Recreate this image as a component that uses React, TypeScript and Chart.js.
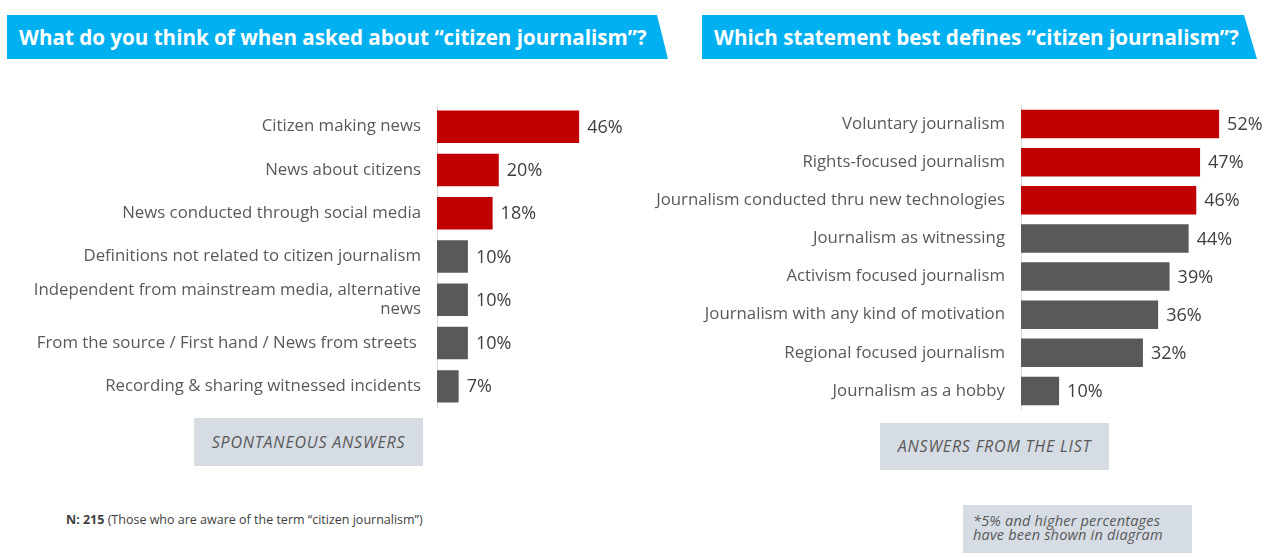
import React, { useEffect, useRef } from "react";
import { Chart, registerables } from "chart.js";

Chart.register(...registerables);

const leftCategories: (string | string[])[] = [
  "Citizen making news",
  "News about citizens",
  "News conducted through social media",
  "Definitions not related to citizen journalism",
  ["Independent from mainstream media, alternative", "news"],
  "From the source / First hand / News from streets ",
  "Recording & sharing witnessed incidents",
];
const leftValues = [46, 20, 18, 10, 10, 10, 7];
const leftHighlighted = [true, true, true, false, false, false, false];

const rightCategories: string[] = [
  "Voluntary journalism",
  "Rights-focused journalism",
  "Journalism conducted thru new technologies",
  "Journalism as witnessing",
  "Activism focused journalism",
  "Journalism with any kind of motivation",
  "Regional focused journalism",
  "Journalism as a hobby",
];
const rightValues = [52, 47, 46, 44, 39, 36, 32, 10];
const rightHighlighted = [true, true, true, false, false, false, false, false];

const leftTitle = "What do you think of when asked about \u201ccitizen journalism\u201d?";
const rightTitle = "Which statement best defines \u201ccitizen journalism\u201d?";
const leftNote = "SPONTANEOUS ANSWERS";
const rightNote = "ANSWERS FROM THE LIST";

const RED = "#c00000";
const GRAY = "#595959";
const FONT = "'Open Sans', Lato, sans-serif";

const valueLabelPlugin = {
  id: "valueLabels",
  afterDatasetsDraw(chart: any) {
    const ctx = chart.ctx;
    const meta = chart.getDatasetMeta(0);
    const data = chart.data.datasets[0].data;
    ctx.save();
    ctx.font = `18px ${FONT}`;
    ctx.fillStyle = "#404040";
    ctx.textAlign = "left";
    ctx.textBaseline = "middle";
    meta.data.forEach((bar: any, i: number) => {
      ctx.fillText(`${data[i]}%`, bar.x + 8, bar.y + 1);
    });
    ctx.restore();
  },
};

function BarChart(props: {
  labels: (string | string[])[];
  values: number[];
  highlight: boolean[];
  axisWidth: number;
  padRight: number;
  barPct: number;
  width: number;
  height: number;
}) {
  const ref = useRef<HTMLCanvasElement>(null);
  useEffect(() => {
    if (!ref.current) return;
    const chart = new Chart(ref.current, {
      type: "bar",
      data: {
        labels: props.labels as any,
        datasets: [
          {
            data: props.values,
            backgroundColor: props.highlight.map((h) => (h ? RED : GRAY)),
            categoryPercentage: 1,
            barPercentage: props.barPct,
          },
        ],
      },
      plugins: [valueLabelPlugin],
      options: {
        indexAxis: "y",
        animation: false,
        responsive: false,
        devicePixelRatio: 1,
        layout: { padding: { left: 0, right: props.padRight, top: 0, bottom: 0 } },
        plugins: { legend: { display: false }, tooltip: { enabled: false } },
        scales: {
          x: { display: false, min: 0, max: 60 },
          y: {
            afterFit: (scale: any) => {
              scale.width = props.axisWidth;
              scale.paddingTop = 0;
              scale.paddingBottom = 0;
            },
            grid: { display: false, drawTicks: false },
            border: { display: true, color: "#d9d9d9", width: 1 },
            ticks: {
              autoSkip: false,
              padding: 16,
              color: "#595959",
              font: { family: FONT, size: 16.8, lineHeight: 1.15 },
            },
          },
        },
      },
    });
    return () => chart.destroy();
  }, []);
  return <canvas ref={ref} width={props.width} height={props.height} style={{ width: props.width, height: props.height, display: "block" }} />;
}

function Banner(props: { text: string; left: number; width: number; slant: number }) {
  const w = props.width;
  return (
    <div
      style={{
        position: "absolute",
        left: props.left,
        top: 15,
        width: w,
        height: 44,
        background: "#00b0f0",
        clipPath: `polygon(0 0, ${w - props.slant}px 0, ${w}px 100%, 0 100%)`,
        color: "#fff",
        fontFamily: FONT,
        fontWeight: 700,
        fontSize: 20.6,
        lineHeight: "44px",
        paddingLeft: 12,
        boxSizing: "border-box",
        whiteSpace: "nowrap",
      }}
    >
      {props.text}
    </div>
  );
}

function NoteBox(props: { text: string; left: number; top: number; width: number; height: number }) {
  return (
    <div
      style={{
        position: "absolute",
        left: props.left,
        top: props.top,
        width: props.width,
        height: props.height,
        background: "#d6dce4",
        color: "#595959",
        fontFamily: FONT,
        fontStyle: "italic",
        fontSize: 16,
        letterSpacing: "0.8px",
        lineHeight: props.height + "px",
        textAlign: "center",
      }}
    >
      {props.text}
    </div>
  );
}

export default function App() {
  return (
    <div style={{ position: "absolute", left: 0, top: 0, width: 1276, height: 558, background: "#fff", overflow: "hidden" }}>
      <Banner text={leftTitle} left={7} width={661} slant={11} />
      <Banner text={rightTitle} left={702} width={555} slant={13} />
      <div style={{ position: "absolute", left: 0, top: 105 }}>
        <BarChart
          labels={leftCategories}
          values={leftValues}
          highlight={leftHighlighted}
          axisWidth={437}
          padRight={17.6}
          barPct={0.75}
          width={640}
          height={303}
        />
      </div>
      <div style={{ position: "absolute", left: 640, top: 105 }}>
        <BarChart
          labels={rightCategories}
          values={rightValues}
          highlight={rightHighlighted}
          axisWidth={381}
          padRight={26.4}
          barPct={0.75}
          width={636}
          height={305}
        />
      </div>
      <NoteBox text={leftNote} left={194} top={418} width={229} height={48} />
      <NoteBox text={rightNote} left={880} top={423} width={229} height={47} />
      <div
        style={{
          position: "absolute",
          left: 66,
          top: 511,
          fontFamily: FONT,
          fontSize: 12.5,
          color: "#404040",
          whiteSpace: "nowrap",
        }}
      >
        <b>N: 215</b> (Those who are aware of the term {"\u201ccitizen journalism\u201d"})
      </div>
      <div
        style={{
          position: "absolute",
          left: 963,
          top: 505,
          width: 229,
          height: 48,
          background: "#d6dce4",
          color: "#595959",
          fontFamily: FONT,
          fontStyle: "italic",
          fontSize: 14.5,
          letterSpacing: "0.2px",
          lineHeight: "14px",
          padding: "9px 0 0 10px",
          boxSizing: "border-box",
          whiteSpace: "nowrap",
        }}
      >
        *5% and higher percentages
        <br />
        have been shown in diagram
      </div>
    </div>
  );
}
